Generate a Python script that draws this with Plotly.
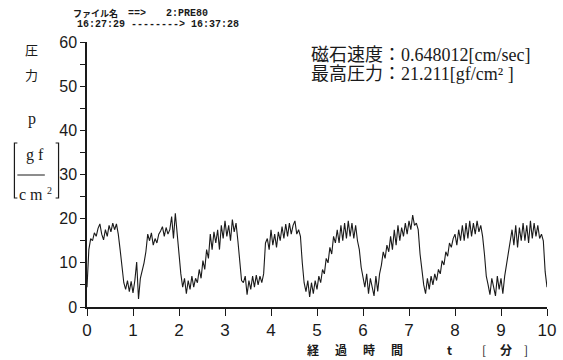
import numpy as np
import plotly.graph_objects as go

# Pressure record, sampled every 0.04 min over 10 minutes [gf/cm^2]
sample_interval_min = 0.04
pressure = [
    # 0 - 1 min
    4.5, 13, 15.5, 15, 16.8, 16, 17.8, 18.8, 16.5, 15.2, 17.5, 16, 18.5,
    17, 19, 17.5, 18.8, 16.5, 13, 9, 5.5, 4, 6, 3.5, 5.8,
    # 1 - 2 min
    3.2, 6, 10.2, 1.8, 6.5, 8, 10, 12.5, 16.5, 15, 16.8, 14, 15.5,
    14.5, 16.5, 17.2, 18.2, 16, 18, 16.5, 17.5, 20.5, 15.5, 21.211, 16,
    # 2 - 3 min
    11, 7.5, 4.5, 6.5, 3, 6, 4, 7, 4.5, 6.5, 5.5, 8.5, 6.5,
    10.5, 8.5, 13, 11, 16.5, 13, 17, 14.5, 17.5, 13, 18.5, 15.5,
    # 3 - 4 min
    19.5, 16, 18.5, 15, 19.8, 17, 19, 15, 10, 6, 5.5, 7, 2.8,
    6, 4, 7, 4.5, 7.2, 5, 7, 5.5, 7.5, 14.5, 15.5, 13,
    # 4 - 5 min
    17.5, 14, 16.5, 13.5, 17, 15, 18.2, 15.5, 18.8, 16, 19, 16.5, 18.5,
    19.5, 16.5, 17.5, 16, 10, 5.5, 3.5, 6, 2.3, 5.5, 3, 6,
    # 5 - 6 min
    4, 7, 5.5, 8.5, 7.5, 11, 10, 13.5, 12, 16, 14.5, 17.5, 14.5,
    18.5, 15, 19, 15.5, 19.5, 16, 19, 15.5, 18.5, 15, 13, 9,
    # 6 - 7 min
    7, 4.5, 7.5, 3, 6.5, 4, 2.5, 7, 3.5, 7.5, 9.5, 12.5, 11,
    14, 12.5, 16, 13, 17.5, 14, 18.5, 15, 18, 16, 19, 16.5,
    # 7 - 8 min
    19.5, 17.5, 20.8, 18.5, 19, 17.5, 12, 8, 5, 3, 6.5, 4, 7,
    5, 7.5, 6, 8.5, 7.5, 10.5, 9.5, 12.5, 11.5, 14.5, 13.5, 15.5,
    # 8 - 9 min
    16.5, 14, 17.5, 15, 18.5, 15, 19, 15.5, 19.5, 16, 19, 16.5, 19.5,
    17, 18.5, 16, 12, 7, 5, 2.8, 6.5, 4, 2.5, 7, 4,
    # 9 - 10 min
    6.5, 3, 7, 9.5, 12, 14.5, 17.5, 14, 18.5, 13.5, 18, 15, 19,
    15, 18.5, 14.5, 19.5, 15.5, 19, 16, 18.5, 15.5, 16.5, 15, 8, 4.5,
]
time_min = np.arange(len(pressure)) * sample_interval_min

x_ticks = list(range(0, 11))
y_ticks = [0, 10, 20, 30, 40, 50, 60]

magnet_speed = "0.648012"
max_pressure = max(pressure)

W, H = 563, 360
L, R, T, B = 87, 7, 42, 53
PW, PH = W - L - R, H - T - B


def px(x):
    return (x - L) / PW


def py(y):
    return (H - B - y) / PH


fig = go.Figure()
fig.add_trace(go.Scatter(
    x=time_min, y=pressure, mode="lines",
    line=dict(color="#1a1a1a", width=1.1),
    showlegend=False, hoverinfo="skip",
))

fig.update_layout(
    width=W, height=H,
    margin=dict(l=L, r=R, t=T, b=B, pad=0),
    paper_bgcolor="white", plot_bgcolor="white",
    xaxis=dict(
        range=[0, 10], tickvals=x_ticks, ticks="outside", ticklen=7,
        tickwidth=1.3, tickcolor="#1a1a1a", showline=True, linecolor="#1a1a1a",
        linewidth=1.5, showgrid=False, zeroline=False,
        ticklabeloverflow="allow",
        tickfont=dict(family="Liberation Sans", size=17, color="#1a1a1a"),
    ),
    yaxis=dict(
        range=[0, 60], tickvals=y_ticks, ticks="outside", ticklen=5,
        tickwidth=1.3, tickcolor="#1a1a1a", showline=True, linecolor="#1a1a1a",
        linewidth=1.5, showgrid=False, zeroline=False,
        tickfont=dict(family="Liberation Sans", size=16, color="#1a1a1a"),
        minor=dict(dtick=5, ticks="outside", ticklen=5, tickwidth=1.2,
                   tickcolor="#1a1a1a", showgrid=False),
    ),
)

serif = "Liberation Serif, Noto Sans CJK JP"
mono = "Liberation Mono, Noto Sans CJK JP"
jp = "Noto Sans CJK JP"
ink = "#1a1a1a"


def note(text, x, y, size, family, xanchor="center", bold=False):
    fig.add_annotation(
        text=f"<b>{text}</b>" if bold else text,
        x=px(x), y=py(y), xref="paper", yref="paper",
        xanchor=xanchor, yanchor="middle", showarrow=False,
        font=dict(family=family, size=size, color=ink),
        borderpad=0,
    )


# header (file name and recording interval)
note("ファイル名", 72, 13, 9, jp, xanchor="left", bold=True)
note("==>", 128, 13, 10, mono, xanchor="left", bold=True)
note("2:PRE80", 167, 13, 10, mono, xanchor="left", bold=True)
note("16:27:29 --------> 16:37:28", 76, 24, 10, mono, xanchor="left", bold=True)

# measurement summary
note(f"磁石速度：{magnet_speed}[cm/sec]", 314, 55, 18, serif, xanchor="left")
note(f"最高圧力：{max_pressure:.3f}[gf/cm² ]", 314, 74, 18, serif, xanchor="left")

# y-axis title: 圧力 p [gf / cm²]
note("圧", 30, 49, 13, jp)
note("力", 30, 74, 13, jp)
note("p", 31, 119, 16, serif)
note("g f", 34, 155, 16, serif)
note("c m", 30, 194, 16, serif)
note("2", 49, 190, 10, serif)

fig.add_shape(type="line", xref="paper", yref="paper",
              x0=px(16), x1=px(44), y0=py(175), y1=py(175),
              line=dict(color=ink, width=1))
for xb, dx in ((13, 3), (58, -3)):
    path = (f"M {px(xb + dx)},{py(143)} L {px(xb)},{py(143)} "
            f"L {px(xb)},{py(198)} L {px(xb + dx)},{py(198)}")
    fig.add_shape(type="path", xref="paper", yref="paper", path=path,
                  line=dict(color=ink, width=1.2))

# x-axis title: 経過時間 t [分]
for ch, xc in zip("経過時間", (317, 346, 375, 403)):
    note(ch, xc, 349, 12, jp, bold=True)
note("t", 457, 349, 12, jp, bold=True)
note("[", 492, 349, 12, jp)
note("分", 514, 349, 12, jp, bold=True)
note("]", 535, 349, 12, jp)

fig.write_html("out.html")
